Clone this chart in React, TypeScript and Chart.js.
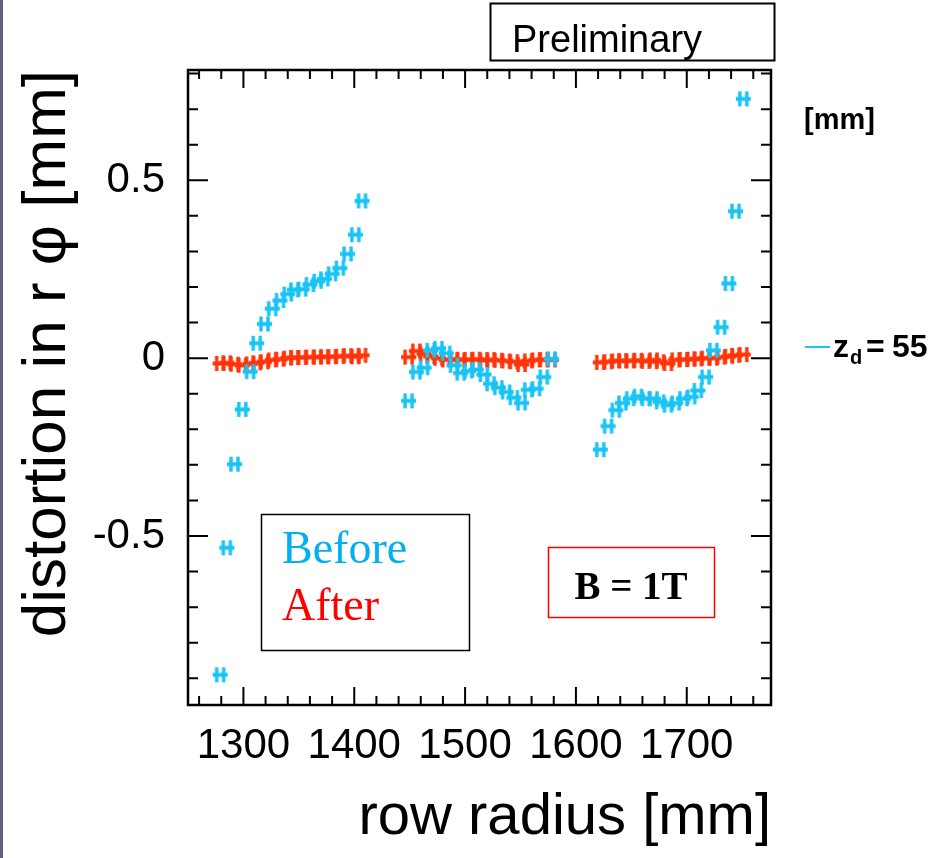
import React, { useEffect, useRef } from "react";
import { Chart, registerables } from "chart.js";

Chart.register(...registerables);

// ---- data ----
const radius1 = [1279, 1285, 1292, 1299, 1306, 1312, 1319, 1326, 1333, 1340, 1346, 1353, 1360, 1367, 1373, 1380, 1387, 1394, 1401, 1407];
const before1 = [-0.89, -0.533, -0.298, -0.144, -0.038, 0.042, 0.096, 0.139, 0.162, 0.18, 0.192, 0.194, 0.207, 0.216, 0.223, 0.237, 0.253, 0.293, 0.347, 0.442];
const after1 = [-0.015, -0.013, -0.017, -0.02, -0.016, -0.013, -0.01, -0.005, -0.003, 0.0, 0.002, 0.002, 0.003, 0.003, 0.004, 0.004, 0.005, 0.007, 0.004, 0.008];

const radius2 = [1449, 1456, 1463, 1469, 1476, 1483, 1490, 1496, 1503, 1510, 1517, 1523, 1530, 1537, 1544, 1551, 1557, 1564, 1571, 1578];
const before2 = [-0.12, -0.039, -0.027, 0.022, 0.027, 0.014, -0.02, -0.042, -0.036, -0.032, -0.046, -0.072, -0.083, -0.095, -0.111, -0.126, -0.089, -0.086, -0.053, -0.002];
const after2 = [0.003, 0.02, 0.012, 0.005, 0.0, -0.005, -0.003, -0.005, -0.004, -0.003, -0.006, -0.004, -0.006, -0.008, -0.01, -0.018, -0.008, -0.005, -0.004, -0.005];

const radius3 = [1622, 1629, 1636, 1642, 1649, 1656, 1663, 1670, 1676, 1683, 1690, 1697, 1704, 1710, 1717, 1724, 1731, 1738, 1744, 1751];
const before3 = [-0.257, -0.191, -0.146, -0.126, -0.114, -0.107, -0.114, -0.114, -0.123, -0.132, -0.126, -0.114, -0.109, -0.091, -0.053, 0.022, 0.087, 0.21, 0.413, 0.729];
const after3 = [-0.012, -0.01, -0.008, -0.007, -0.008, -0.006, -0.009, -0.005, -0.01, -0.015, -0.005, -0.004, -0.003, -0.002, 0.0, 0.0, 0.003, 0.005, 0.008, 0.01];

const xTickLabels = [1300, 1400, 1500, 1600, 1700];
const yTickLabels = [-0.5, 0, 0.5];
const xMinorStep = 20;
const yMinorStep = 0.1;

const X_MIN = 1250;
const X_MAX = 1776;
const Y_MIN = -0.975;
const Y_MAX = 0.81;

const BLUE = "rgb(25,196,245)";
const RED = "rgb(255,52,8)";
const SANS = "'Liberation Sans', Arial, Helvetica, sans-serif";
const SERIF = "'Liberation Serif', 'Times New Roman', serif";

function toPoints(xs: number[], ys: number[]) {
  return xs.map((x, i) => ({ x, y: ys[i] }));
}

function makeMarker(color: string) {
  const c = document.createElement("canvas");
  c.width = 17;
  c.height = 17;
  const g = c.getContext("2d")!;
  g.strokeStyle = color;
  g.lineWidth = 3.4;
  g.beginPath();
  g.moveTo(5, 1);
  g.lineTo(5, 16);
  g.moveTo(12, 1);
  g.lineTo(12, 16);
  g.stroke();
  g.lineWidth = 4;
  g.beginPath();
  g.moveTo(1, 8.5);
  g.lineTo(16, 8.5);
  g.stroke();
  return c;
}

const decorPlugin = {
  id: "decor",
  afterDraw(chart: any) {
    const { ctx, chartArea: a, scales } = chart;
    const xs = scales.x;
    const ys = scales.y;
    ctx.save();

    // left slide edge strip
    ctx.fillStyle = "rgb(95,100,128)";
    ctx.fillRect(0, 0, 3, chart.height);

    // frame
    ctx.strokeStyle = "#000";
    ctx.lineWidth = 2.5;
    ctx.strokeRect(a.left, a.top, a.right - a.left, a.bottom - a.top);

    // inward ticks
    ctx.lineWidth = 2;
    ctx.beginPath();
    for (let v = X_MIN + 10; v < X_MAX; v += xMinorStep) {
      const major = xTickLabels.some((t) => Math.abs(t - v) < 1e-6);
      const len = major ? 18 : 9;
      const px = xs.getPixelForValue(v);
      ctx.moveTo(px, a.bottom);
      ctx.lineTo(px, a.bottom - len);
      ctx.moveTo(px, a.top);
      ctx.lineTo(px, a.top + len);
    }
    for (let k = -9; k <= 8; k++) {
      const v = k * yMinorStep;
      if (v < Y_MIN || v > Y_MAX) continue;
      const major = yTickLabels.some((t) => Math.abs(t - v) < 1e-6);
      const len = major ? 20 : 10;
      const py = ys.getPixelForValue(v);
      ctx.moveTo(a.left, py);
      ctx.lineTo(a.left + len, py);
      ctx.moveTo(a.right, py);
      ctx.lineTo(a.right - len, py);
    }
    ctx.stroke();

    // Preliminary box
    ctx.lineWidth = 2;
    ctx.strokeStyle = "#000";
    ctx.strokeRect(490.5, 3.5, 284, 57);
    ctx.fillStyle = "#000";
    ctx.font = `38px ${SANS}`;
    ctx.textBaseline = "alphabetic";
    ctx.textAlign = "left";
    ctx.fillText("Preliminary", 512, 52);

    // [mm]
    ctx.font = `bold 29px ${SANS}`;
    ctx.fillText("[mm]", 804, 129);

    // legend entry
    ctx.strokeStyle = "rgb(40,190,240)";
    ctx.lineWidth = 2;
    ctx.beginPath();
    ctx.moveTo(805, 347);
    ctx.lineTo(830, 347);
    ctx.stroke();
    ctx.fillStyle = "#000";
    ctx.font = `bold 32px ${SANS}`;
    ctx.fillText("z", 833, 357);
    ctx.font = `bold 20px ${SANS}`;
    ctx.fillText("d", 850, 364);
    ctx.font = `bold 32px ${SANS}`;
    ctx.fillText("=", 866, 357);
    ctx.fillText("55", 892, 357);

    // Before / After box
    ctx.strokeStyle = "#000";
    ctx.lineWidth = 1.5;
    ctx.strokeRect(261.5, 514.5, 208, 136);
    ctx.font = `46px ${SERIF}`;
    ctx.fillStyle = "rgb(0,176,240)";
    ctx.fillText("Before", 282, 563);
    ctx.fillStyle = "rgb(255,0,0)";
    ctx.fillText("After", 282, 620);

    // B = 1T box
    ctx.strokeStyle = "rgb(255,0,0)";
    ctx.lineWidth = 1.5;
    ctx.strokeRect(548.5, 547.5, 166, 70);
    ctx.fillStyle = "#000";
    ctx.font = `bold 39px ${SERIF}`;
    ctx.textAlign = "center";
    ctx.fillText("B = 1T", 631, 599);

    ctx.restore();
  },
};

export default function App() {
  const ref = useRef<HTMLCanvasElement | null>(null);

  useEffect(() => {
    if (!ref.current) return;
    const blueMarker = makeMarker(BLUE);
    const redMarker = makeMarker(RED);
    const beforeData = [
      ...toPoints(radius1, before1),
      ...toPoints(radius2, before2),
      ...toPoints(radius3, before3),
    ];
    const afterData = [
      ...toPoints(radius1, after1),
      ...toPoints(radius2, after2),
      ...toPoints(radius3, after3),
    ];
    const chart = new Chart(ref.current, {
      type: "scatter",
      data: {
        datasets: [
          {
            label: "Before",
            data: beforeData,
            pointStyle: blueMarker as any,
            borderColor: BLUE,
            backgroundColor: BLUE,
            showLine: false,
          },
          {
            label: "After",
            data: afterData,
            pointStyle: redMarker as any,
            borderColor: RED,
            backgroundColor: RED,
            showLine: false,
          },
        ],
      },
      options: {
        animation: false,
        responsive: false,
        devicePixelRatio: 1,
        layout: { padding: { top: 70, right: 162, left: 0, bottom: 0 } },
        plugins: { legend: { display: false }, tooltip: { enabled: false } },
        scales: {
          x: {
            type: "linear",
            min: X_MIN,
            max: X_MAX,
            grid: { display: false, drawTicks: false },
            border: { display: false },
            afterBuildTicks: (s: any) => {
              s.ticks = xTickLabels.map((v) => ({ value: v }));
            },
            afterFit: (s: any) => {
              s.height = 153;
            },
            ticks: {
              color: "#000",
              font: { family: SANS, size: 42 },
              padding: 16,
              maxRotation: 0,
              autoSkip: false,
              callback: (v: any) => String(v),
            },
            title: {
              display: true,
              text: "row radius [mm]",
              align: "end",
              color: "#000",
              font: { family: SANS, size: 58 },
              padding: { top: 0, bottom: 5 },
            },
          },
          y: {
            type: "linear",
            min: Y_MIN,
            max: Y_MAX,
            grid: { display: false, drawTicks: false },
            border: { display: false },
            afterBuildTicks: (s: any) => {
              s.ticks = yTickLabels.map((v) => ({ value: v }));
            },
            afterFit: (s: any) => {
              s.width = 188;
            },
            ticks: {
              color: "#000",
              font: { family: SANS, size: 42 },
              padding: 23,
              autoSkip: false,
              callback: (v: any) => String(v),
            },
            title: {
              display: true,
              text: "distortion in r φ [mm]",
              align: "end",
              color: "#000",
              font: { family: SANS, size: 62 },
              padding: { top: 11, bottom: 0 },
            },
          },
        },
      },
      plugins: [decorPlugin],
    });
    return () => chart.destroy();
  }, []);

  return (
    <div style={{ position: "fixed", left: 0, top: 0, width: 933, height: 858, background: "#fff" }}>
      <canvas ref={ref} width={933} height={858} style={{ width: 933, height: 858, display: "block" }} />
    </div>
  );
}
